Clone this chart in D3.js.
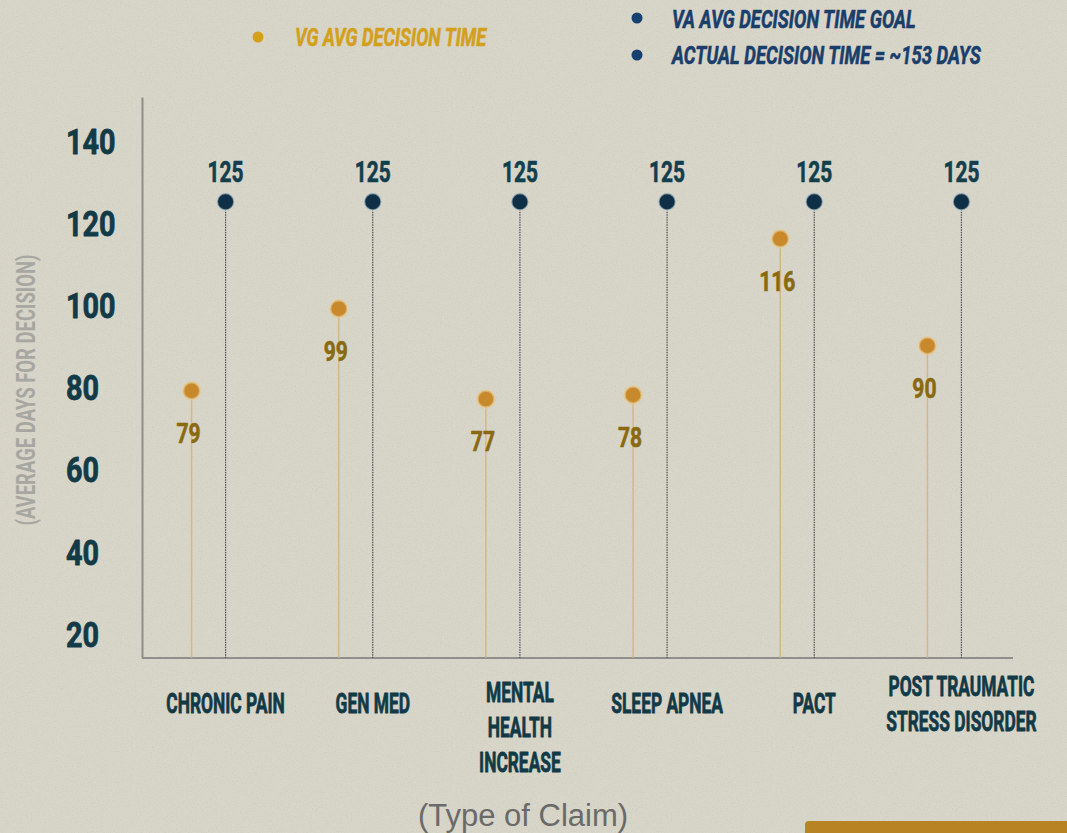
<!DOCTYPE html>
<html>
<head>
<meta charset="utf-8">
<script src="https://cdn.jsdelivr.net/npm/d3@7"></script>
<style>
  html, body { margin: 0; padding: 0; background: #d8d5c9; }
  svg { display: block; }
  text { font-family: Roboto, "Liberation Sans", sans-serif; font-weight: 700; }
</style>
</head>
<body>
<svg width="1067" height="833"></svg>
<script>
// De data van de grafiek
var claims = ["CHRONIC PAIN", "GEN MED", "MENTAL HEALTH INCREASE", "SLEEP APNEA", "PACT", "POST TRAUMATIC STRESS DISORDER"];
var claimLines = [["CHRONIC PAIN"], ["GEN MED"], ["MENTAL", "HEALTH", "INCREASE"], ["SLEEP APNEA"], ["PACT"], ["POST TRAUMATIC", "STRESS DISORDER"]];
var vgTime = [79, 99, 77, 78, 116, 90];
var vaGoal = [125, 125, 125, 125, 125, 125];
var yTicks = [20, 40, 60, 80, 100, 120, 140];
var legendVG = ["VG AVG DECISION TIME"];
var legendVA = ["VA AVG DECISION TIME GOAL", "ACTUAL DECISION TIME = ~153 DAYS"];

var svg = d3.select("svg"),
    width = +svg.attr("width"),
    height = +svg.attr("height");

var x = d3.scaleBand().domain(claims).range([152, 1035]),
    y = d3.scaleLinear().domain([14, 150.5]).range([658, 97]);

var cx = function(i) { return x(claims[i]) + x.bandwidth() / 2; };

// dikker maken van de letters (lijkt meer op het originele lettertype)
function heavy(sel, w) {
  sel.attr("stroke", function() { return d3.select(this).attr("fill"); })
     .attr("stroke-width", w)
     .attr("stroke-linejoin", "round");
}

// papier achtergrond met een beetje ruis
var defs = svg.append("defs");
var f = defs.append("filter").attr("id", "paper").attr("x", 0).attr("y", 0).attr("width", "100%").attr("height", "100%");
f.append("feTurbulence").attr("type", "fractalNoise").attr("baseFrequency", 0.8).attr("numOctaves", 2).attr("seed", 3);
f.append("feColorMatrix").attr("type", "matrix")
  .attr("values", "0 0 0 0 0.45  0 0 0 0 0.43  0 0 0 0 0.38  0 0 0 -1.4 0.75");

svg.append("rect").attr("width", width).attr("height", height).attr("fill", "#d8d5c9");
svg.append("rect").attr("width", width).attr("height", height).attr("filter", "url(#paper)").attr("opacity", 0.35);

// legenda
svg.append("circle").attr("cx", 258).attr("cy", 37).attr("r", 5.5).attr("fill", "#d4a017");
svg.selectAll(".leg-vg").data(legendVG).enter().append("text")
  .attr("class", "leg-vg")
  .attr("transform", "translate(295,46) scale(0.7,1)")
  .attr("font-size", 26).attr("font-style", "italic")
  .attr("fill", "#d3a01c")
  .text(function(d) { return d; })
  .call(heavy, 0.6);

svg.selectAll(".leg-va-dot").data(legendVA).enter().append("circle")
  .attr("cx", 637).attr("cy", function(d, i) { return 18 + i * 37; })
  .attr("r", 5.5).attr("fill", "#17406e");
svg.selectAll(".leg-va").data(legendVA).enter().append("text")
  .attr("class", "leg-va")
  .attr("transform", function(d, i) { return "translate(672," + (28 + i * 36) + ") scale(0.71,1)"; })
  .attr("font-size", 26).attr("font-style", "italic")
  .attr("fill", "#1a3e6b")
  .text(function(d) { return d; })
  .call(heavy, 0.6);

// y-as
var yAxis = svg.append("g")
  .attr("class", "axis axis--y")
  .attr("transform", "translate(142,0)")
  .call(d3.axisLeft(y).tickValues(yTicks).tickSize(0).tickSizeOuter(0));
yAxis.select(".domain").attr("stroke", "#8d908b").attr("stroke-width", 2);
yAxis.selectAll(".tick text")
  .attr("text-anchor", "start")
  .attr("x", -76 / 0.8)
  .attr("dy", "0.36em")
  .attr("transform", "scale(0.8,1)")
  .attr("font-size", 36)
  .attr("fill", "#133a47")
  .call(heavy, 0.8);

svg.append("text")
  .attr("transform", "translate(26,390) rotate(-90) scale(0.74,1)")
  .attr("text-anchor", "middle").attr("dy", "0.36em")
  .attr("font-size", 25).attr("fill", "#a7a7a1")
  .text("(AVERAGE DAYS FOR DECISION)");

// x-as
svg.append("line")
  .attr("x1", 142).attr("x2", 1013)
  .attr("y1", y(14)).attr("y2", y(14))
  .attr("stroke", "#8d908b").attr("stroke-width", 2);

var xAxis = svg.append("g")
  .attr("class", "axis axis--x")
  .attr("transform", "translate(0," + y(14) + ")")
  .call(d3.axisBottom(x).tickSize(0).tickFormat(""));
xAxis.select(".domain").remove();
xAxis.selectAll(".tick").each(function(d, i) {
  var lines = claimLines[i];
  var startY = lines.length === 3 ? 44 : 55 - (lines.length - 1) * 17;
  var t = d3.select(this).append("text")
    .attr("transform", "translate(0," + startY + ") scale(0.62,1)")
    .attr("text-anchor", "middle")
    .attr("font-size", 28)
    .attr("fill", "#123a46")
    .call(heavy, 0.8);
  t.selectAll("tspan").data(lines).enter().append("tspan")
    .attr("x", 0)
    .attr("y", function(l, j) { return j * 35; })
    .text(function(l) { return l; });
});

svg.append("text")
  .attr("x", 523).attr("y", 826)
  .attr("text-anchor", "middle")
  .style("font-family", "'Liberation Sans', Arial, sans-serif")
  .style("font-weight", 400)
  .attr("font-size", 31).attr("fill", "#6a6a68")
  .text("(Type of Claim)");

// VA stelen en punten
var g = svg.append("g");
g.selectAll(".va-stem").data(vaGoal).enter().append("line")
  .attr("class", "va-stem")
  .attr("x1", function(d, i) { return cx(i); }).attr("x2", function(d, i) { return cx(i); })
  .attr("y1", function(d) { return y(d); }).attr("y2", y(14))
  .attr("stroke", "#4d5254").attr("stroke-width", 1.2).attr("stroke-dasharray", "1.5,1");

g.selectAll(".vg-stem").data(vgTime).enter().append("line")
  .attr("class", "vg-stem")
  .attr("x1", function(d, i) { return cx(i) - 34; }).attr("x2", function(d, i) { return cx(i) - 34; })
  .attr("y1", function(d) { return y(d); }).attr("y2", y(14))
  .attr("stroke", "#d4b27a").attr("stroke-width", 1.5).attr("opacity", 0.8);

g.selectAll(".va-dot").data(vaGoal).enter().append("circle")
  .attr("class", "va-dot")
  .attr("cx", function(d, i) { return cx(i); })
  .attr("cy", function(d) { return y(d); })
  .attr("r", 8.5)
  .attr("fill", "#0e2f45")
  .attr("stroke", "#c9d3d3").attr("stroke-width", 2).attr("stroke-opacity", 0.6);

g.selectAll(".vg-dot").data(vgTime).enter().append("circle")
  .attr("class", "vg-dot")
  .attr("cx", function(d, i) { return cx(i) - 34; })
  .attr("cy", function(d) { return y(d); })
  .attr("r", 8.5)
  .attr("fill", "#c8882c")
  .attr("stroke", "#e8cd92").attr("stroke-width", 2.5).attr("stroke-opacity", 0.6);

// waarde labels
g.selectAll(".va-label").data(vaGoal).enter().append("text")
  .attr("class", "va-label")
  .attr("transform", function(d, i) { return "translate(" + cx(i) + "," + (y(d) - 20) + ") scale(0.72,1)"; })
  .attr("text-anchor", "middle")
  .attr("font-size", 29)
  .attr("fill", "#133e4c")
  .text(function(d) { return d; })
  .call(heavy, 0.6);

g.selectAll(".vg-label").data(vgTime).enter().append("text")
  .attr("class", "vg-label")
  .attr("transform", function(d, i) { return "translate(" + (cx(i) - 37) + "," + (y(d) + 52) + ") scale(0.78,1)"; })
  .attr("text-anchor", "middle")
  .attr("font-size", 27)
  .attr("fill", "#8a6a0e")
  .text(function(d) { return d; })
  .call(heavy, 0.6);

// oranje balk rechtsonder
svg.append("rect")
  .attr("x", 805).attr("y", 821).attr("width", 270).attr("height", 20).attr("rx", 4)
  .attr("fill", "#b88322");
</script>
</body>
</html>
